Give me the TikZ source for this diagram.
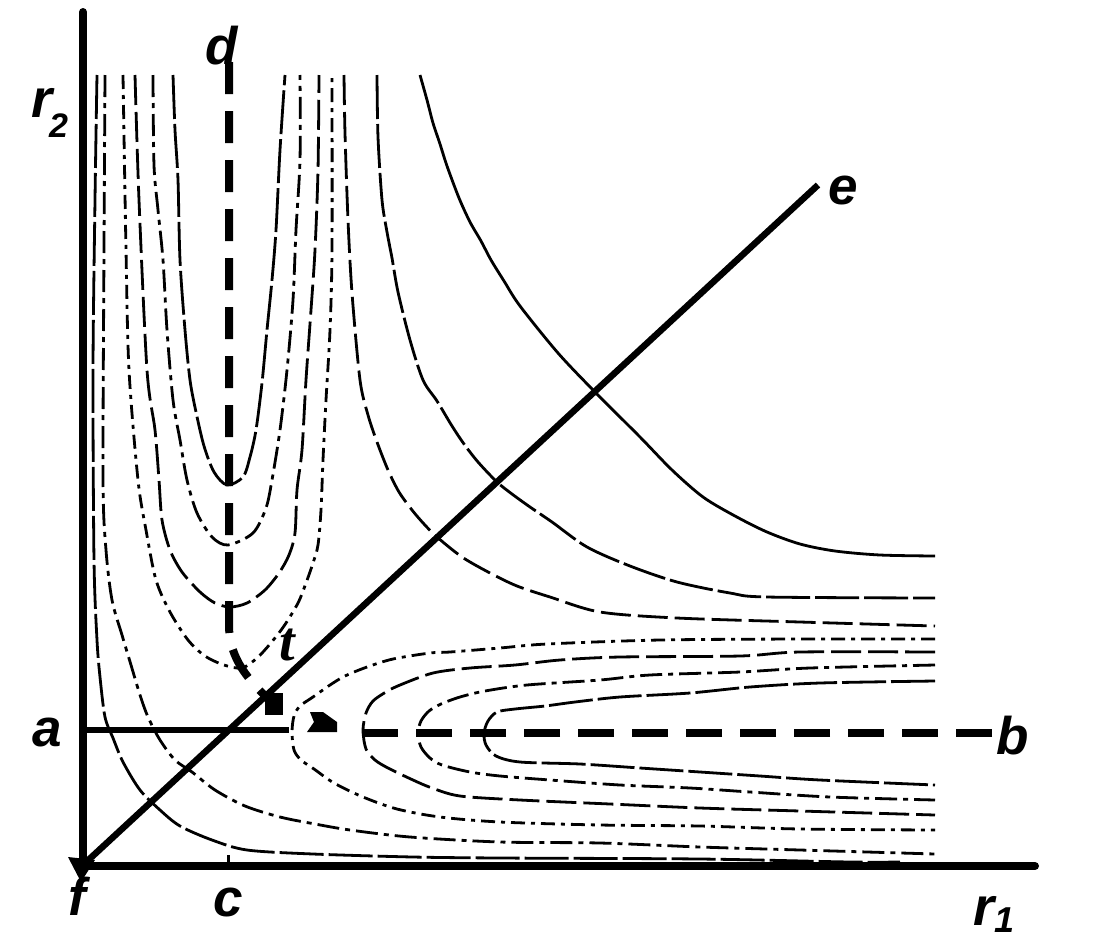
\documentclass[tikz,border=0pt]{standalone}
\usepackage{fontspec}
\setmainfont{Liberation Sans}
\newfontfamily\serifit{Liberation Serif}
\begin{document}
\begin{tikzpicture}[x=1pt,y=-1pt,
  cont/.style={line width=2.8pt, line join=round},
  cA/.style={cont, dash pattern=on 44pt off 5pt},
  cB/.style={cont, dash pattern=on 22pt off 6pt on 5pt off 6pt},
  cC/.style={cont, dash pattern=on 30pt off 7pt},
  cD/.style={cont, dash pattern=on 14pt off 6pt on 4pt off 6pt},
  cS/.style={cont},
  heavy/.style={line width=8pt},
  lbl/.style={font=\fontsize{53}{53}\selectfont\bfseries\itshape, inner sep=0pt},
  rl/.style={font=\fontsize{54}{54}\selectfont\bfseries\itshape, inner sep=0pt, anchor=base west},
  sublbl/.style={font=\fontsize{34}{34}\selectfont\bfseries\itshape, inner sep=0pt, anchor=base west}
]
\useasboundingbox (0,0) rectangle (1100,943);
\fill[white] (0,0) rectangle (1100,943);

% ---------- entrance valley U contours ----------
\draw[cA] plot[smooth] coordinates {(173,75) (175,130) (178,180) (180,260) (185,330) (190,380) (196,412) (204,446) (214,472) (227,485) (243,477) (250,457) (256,430) (262,383) (267,330) (272,280) (276,230) (280,150) (285,75)};
\draw[cB] plot[smooth] coordinates {(153,75) (154,165) (158,210) (163,260) (167,330) (173,400) (180,440) (187,480) (197,513) (212,537) (228,545) (253,533) (266,508) (272,480) (280,430) (287,370) (293,300) (296,230) (300,160) (300,75)};
\draw[cC] plot[smooth] coordinates {(135,75) (139,200) (147,370) (155,430) (159,480) (162,520) (170,550) (182,572) (200,592) (215,603) (230,607) (247,603) (265,590) (279,573) (289,555) (295,533) (297,490) (302,450) (306,380) (311,310) (315,250) (318,170) (319,75)};
\draw[cD] plot[smooth] coordinates {(123,75) (126,250) (129,370) (138,480) (146,530) (156,580) (170,612) (188,640) (205,656) (224,665) (242,668) (257,658) (270,644) (284,626) (298,603) (306,583) (313,563) (318,545) (321,510) (323,460) (326,400) (330,330) (332,250) (332,75)};

% ---------- repulsive wall contours ----------
\draw[cB] plot[smooth] coordinates {(105,75) (104,250) (103,480) (106,550) (112,600) (122,635) (131,665) (140,695) (148,717) (160,740) (175,760) (192,772) (215,790) (245,806) (280,817) (315,824) (350,830) (410,837) (500,842) (600,843) (700,847) (800,850) (935,854)};
\draw[cA] plot[smooth] coordinates {(97,75) (95,200) (93,370) (94,560) (97,640) (100,677) (105,717) (113,738) (123,762) (140,790) (160,810) (180,826) (212,840) (247,850) (313,854) (413,857) (500,858) (700,859) (850,862) (900,862)};

% ---------- plateau contours ----------
\draw[cC] plot[smooth] coordinates {(344,75) (345,133) (348,220) (352,293) (360,380) (368,415) (377,442) (388,470) (399,492) (412,510) (424,524) (437,537) (462,557) (490,573) (517,586) (550,597) (600,612) (677,618) (800,622) (935,626)};
\draw[cA] plot[smooth] coordinates {(377,75) (378,137) (382,200) (387,232) (392,258) (398,292) (410,340) (423,380) (437,401) (452,426) (464,444) (478,462) (497,482) (512,494) (530,507) (552,522) (587,547) (630,566) (677,582) (730,593) (767,597) (935,598)};
\draw[cS] plot[smooth] coordinates {(420,75) (427,100) (433,123) (440,144) (447,166) (459,198) (470,222) (481,241) (491,260) (504,281) (520,306) (558,353) (595,392) (640,437) (672,470) (703,497) (735,516) (767,532) (800,544) (835,551) (880,555) (935,556)};

% ---------- exit valley lobes ----------
\draw[cD] plot[smooth] coordinates {(935,639) (800,639) (660,640) (547,644) (500,648) (450,652) (430,653) (393,659) (367,667) (345,676) (330,685) (313,697) (300,706) (294,716) (292,732) (294,750) (301,760) (314,769) (334,783) (363,797) (397,809) (440,817) (500,822) (600,825) (700,826) (800,829) (935,830)};
\draw[cC] plot[smooth] coordinates {(935,652) (800,652) (740,656) (620,657) (560,660) (515,665) (470,668) (433,673) (400,685) (386,692) (373,701) (366,713) (363,730) (366,749) (375,760) (388,768) (413,780) (432,788) (460,796) (520,800) (610,804) (700,808) (800,811) (935,815)};
\draw[cB] plot[smooth] coordinates {(935,665) (810,668) (740,672) (650,675) (600,680) (527,685) (485,691) (460,697) (441,704) (429,711) (421,721) (418,733) (421,747) (430,758) (442,765) (470,772) (500,776) (550,780) (620,785) (690,788) (750,792) (830,797) (935,800)};
\draw[cA] plot[smooth] coordinates {(935,681) (820,683) (750,687) (690,693) (620,697) (575,702) (545,706) (515,709) (497,712) (488,721) (484,733) (486,745) (496,756) (520,762) (580,764) (640,768) (700,772) (760,776) (820,780) (935,785)};

% ---------- axes ----------
\coordinate (O) at (83,866);
\coordinate (Ytop) at (83,12);
\coordinate (Xend) at (1035,866);
\draw[heavy, line cap=round] (O) -- (Ytop);
\draw[heavy, line cap=round] (79,866) -- (Xend);
\draw[line width=3pt] (228,855) -- (228,866);

% ---------- diagonal f -> e ----------
\coordinate (F) at (83,865);
\coordinate (E) at (818,185);
\draw[line width=6.5pt] (F) -- (E);
\fill (68,857) -- (95,860) -- (81,882) -- cycle;

% ---------- line a and reaction path ----------
\coordinate (A0) at (83,730);
\coordinate (A1) at (289,730);
\draw[line width=6.5pt] (A0) -- (A1);
\coordinate (D0) at (229,62);
\coordinate (TS) at (274,704);
\draw[heavy, dash pattern=on 32pt off 17pt] (D0) -- (229,625) .. controls (229,652) and (241,675) .. (TS);
\fill (265,693) rectangle (283,715);
\fill (310,712) -- (323,712) -- (337,722) -- (337,732) -- (307,732) -- (314,722) -- cycle;
\coordinate (B1) at (992,733);
\coordinate (B0) at (345,733);
\draw[heavy, dash pattern=on 36pt off 18pt] (B1) -- (B0);

% ---------- labels ----------
\node[lbl] (ld) at (222,46) {d};
\node[lbl] (le) at (843,190) {e};
\node[lbl] (la) at (47,732) {a};
\node[lbl] (lb) at (1013,736) {b};
\node[lbl] (lc) at (228,902) {c};
\node[lbl] (lf) at (77,896) {f};
\node[font=\fontsize{56}{56}\selectfont\serifit\bfseries\itshape, inner sep=0pt] (lt) at (287,645) {t};
\node[rl] (r2) at (31,117) {r};
\node[sublbl] (r2s) at (49,137) {2};
\node[rl] (r1) at (973,925) {r};
\node[sublbl, font=\fontsize{36}{36}\selectfont\bfseries\itshape] (r1s) at (994,932) {1};
\end{tikzpicture}
\end{document}
